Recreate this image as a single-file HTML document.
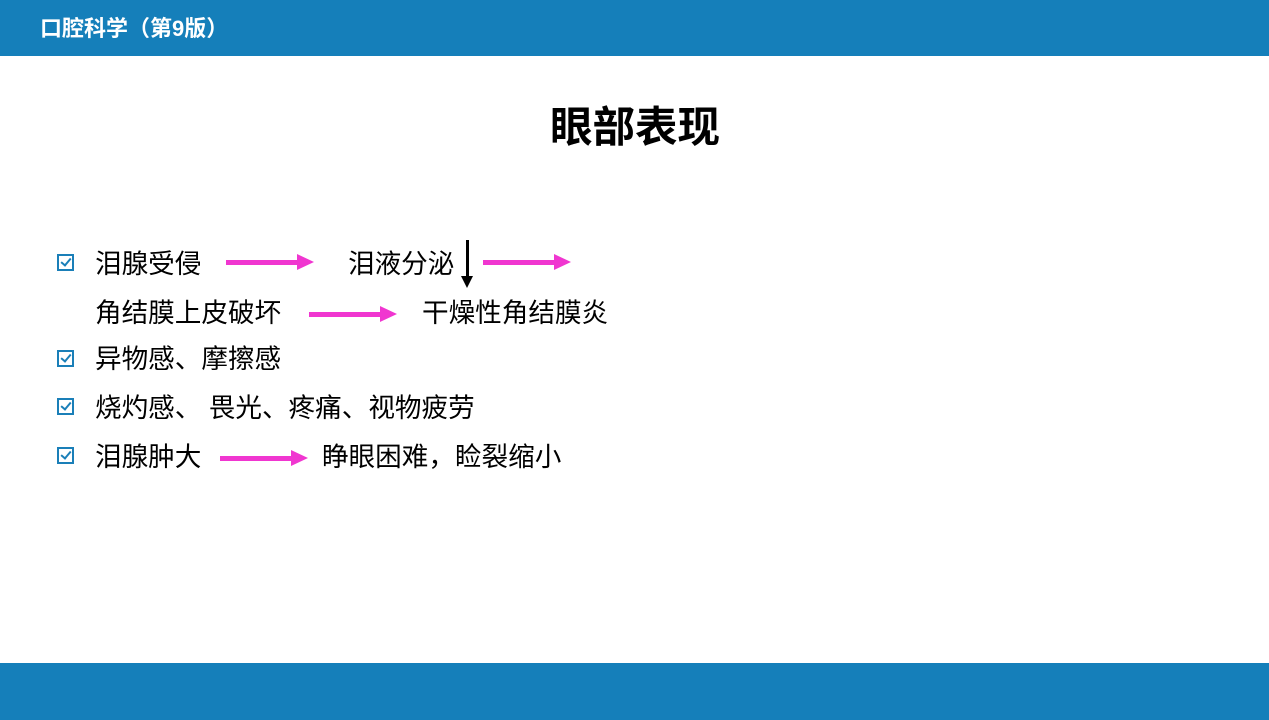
<!DOCTYPE html>
<html><head><meta charset="utf-8"><style>
body{margin:0;width:1269px;height:720px;position:relative;background:#fff;overflow:hidden;font-family:"Liberation Sans","Noto Sans CJK SC",sans-serif;}
.bar{position:absolute;left:0;width:1269px;background:#157fba;}
.t{position:absolute;font-size:26.6px;color:#000;line-height:30px;white-space:nowrap;}
.cb{position:absolute;width:17px;height:17px;border:2px solid #1a7fb8;box-sizing:border-box;}
.cb:after{content:"";position:absolute;left:4px;top:0px;width:4px;height:8px;border:solid #1a7fb8;border-width:0 2.5px 2.5px 0;transform:rotate(40deg);}
.ar{position:absolute;height:5px;background:#f036d0;}
.ar:after{content:"";position:absolute;right:-16px;top:-6px;border-left:17px solid #f036d0;border-top:8.5px solid transparent;border-bottom:8.5px solid transparent;}
</style></head><body>
<div class="bar" style="top:0;height:56px"></div>
<div style="position:absolute;left:40px;top:15px;color:#fff;font-weight:bold;font-size:22px;line-height:28px">口腔科学（第9版）</div>
<div class="bar" style="top:663px;height:57px"></div>
<div style="position:absolute;left:550px;top:104px;font-size:42.5px;font-weight:bold;line-height:50px">眼部表现</div>

<div class="cb" style="left:57px;top:254px"></div>
<div class="t" style="left:95px;top:249px">泪腺受侵</div>
<div class="ar" style="left:226px;top:260px;width:72px"></div>
<div class="t" style="left:348px;top:249px">泪液分泌</div>
<div style="position:absolute;left:466px;top:240px;width:3px;height:38px;background:#000"></div>
<div style="position:absolute;left:461px;top:276px;border-top:12px solid #000;border-left:6.5px solid transparent;border-right:6.5px solid transparent"></div>
<div class="ar" style="left:483px;top:260px;width:72px"></div>

<div class="t" style="left:95px;top:298px">角结膜上皮破坏</div>
<div class="ar" style="left:309px;top:312px;width:72px"></div>
<div class="t" style="left:422px;top:298px">干燥性角结膜炎</div>

<div class="cb" style="left:57px;top:350px"></div>
<div class="t" style="left:95px;top:344px">异物感、摩擦感</div>

<div class="cb" style="left:57px;top:398px"></div>
<div class="t" style="left:95px;top:393px">烧灼感、 畏光、疼痛、视物疲劳</div>

<div class="cb" style="left:57px;top:447px"></div>
<div class="t" style="left:95px;top:442px">泪腺肿大</div>
<div class="ar" style="left:220px;top:456px;width:72px"></div>
<div class="t" style="left:322px;top:442px">睁眼困难，睑裂缩小</div>
</body></html>
